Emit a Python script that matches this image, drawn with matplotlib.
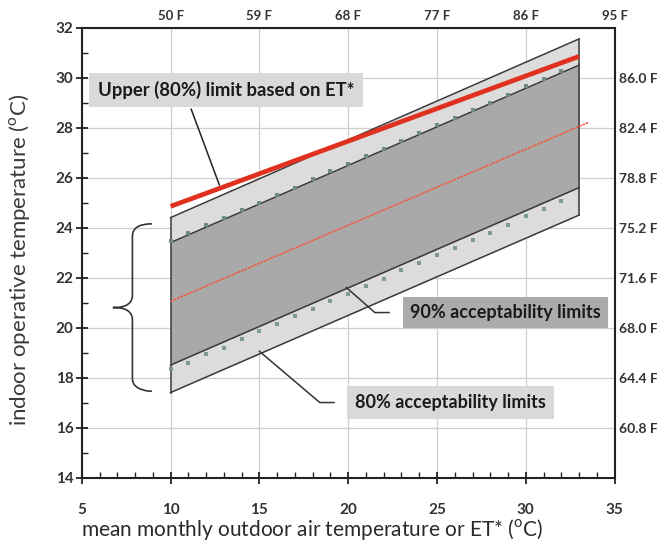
import matplotlib
matplotlib.use("Agg")
import matplotlib.pyplot as plt
from matplotlib.path import Path
from matplotlib.patches import PathPatch
import numpy as np

plt.rcParams['font.family'] = ['Lato', 'DejaVu Sans']

# ---- data ----
x_band = [10, 33]
upper80 = [24.4, 31.55]
upper90 = [23.4, 30.5]
lower90 = [18.5, 25.6]
lower80 = [17.4, 24.5]
x_center = [10, 33.5]
center = [21.05, 28.2]
x_et = [10, 33]
upper_et = [24.85, 30.85]

x_pts = [10, 11, 12, 13, 14, 15, 16, 17, 18, 19, 20, 21, 22, 23, 24, 25, 26, 27, 28, 29, 30, 31, 32]
upper_pts = [23.45, 23.8, 24.1, 24.4, 24.7, 25.0, 25.3, 25.6, 25.95, 26.25, 26.55, 26.85, 27.15, 27.45, 27.8, 28.1, 28.4, 28.7, 29.0, 29.3, 29.65, 29.95, 30.25]
lower_pts = [18.35, 18.6, 18.95, 19.2, 19.55, 19.85, 20.15, 20.45, 20.75, 21.05, 21.35, 21.65, 21.95, 22.3, 22.6, 22.9, 23.2, 23.5, 23.8, 24.1, 24.45, 24.75, 25.05]

y_ticks_c = [14, 16, 18, 20, 22, 24, 26, 28, 30, 32]
x_ticks_c = [5, 10, 15, 20, 25, 30, 35]
top_ticks = [10, 15, 20, 25, 30, 35]
top_labels = ['50 F', '59 F', '68 F', '77 F', '86 F', '95 F']
right_ticks = [16, 18, 20, 22, 24, 26, 28, 30]
right_labels = ['60.8 F', '64.4 F', '68.0 F', '71.6 F', '75.2 F', '78.8 F', '82.4 F', '86.0 F']

narrow = ['Liberation Sans Narrow', 'Lato', 'DejaVu Sans']

fig = plt.figure(figsize=(6.57, 5.42), dpi=100)
ax = fig.add_axes([0.1245, 0.119, 0.811, 0.830])
ax.set_xlim(5, 35)
ax.set_ylim(14, 32)

# grid
ax.set_xticks(x_ticks_c)
ax.set_yticks(y_ticks_c)
ax.grid(True, color='#cfcfcf', lw=0.9, zorder=0)
ax.set_axisbelow(True)

# bands
ax.fill_between(x_band, lower80, upper80, color='#dcdcdc', zorder=1, lw=0)
ax.fill_between(x_band, lower90, upper90, color='#a9a9a9', zorder=2, lw=0)
edge = '#3a3a3a'
for yy in (upper80, upper90, lower90, lower80):
    ax.plot(x_band, yy, color=edge, lw=1.1, zorder=3)
ax.plot([x_band[0], x_band[0]], [lower80[0], upper80[0]], color=edge, lw=1.1, zorder=3)
ax.plot([x_band[1], x_band[1]], [lower80[1], upper80[1]], color=edge, lw=1.1, zorder=3)

# points
ax.scatter(x_pts, upper_pts, marker='s', s=8, color='#6f8a80', zorder=4, lw=0)
ax.scatter(x_pts, lower_pts, marker='s', s=12, color='#7f9a90', zorder=4, lw=0)

# center and ET* lines
ax.plot(x_center, center, color='#f05a40', lw=1.2, ls=(0, (1.5, 0.6)), zorder=5)
ax.plot(x_et, upper_et, color='#e0301e', lw=3.4, zorder=5, solid_capstyle='butt')

# ticks
ax.set_xticks(np.arange(5, 36, 1), minor=True)
ax.set_yticks(np.arange(14, 33, 1), minor=True)
ax.tick_params(axis='both', which='major', direction='inout', length=8, width=1.3, color='#222222')
ax.tick_params(axis='both', which='minor', direction='in', length=4, width=1.0, color='#222222')
ax.tick_params(axis='x', which='major', pad=14)
ax.tick_params(axis='y', which='major', pad=2)
ax.set_xticklabels([str(v) for v in x_ticks_c], fontsize=11, fontweight='bold', color='#333333')
ax.set_yticklabels([str(v) for v in y_ticks_c], fontsize=11, fontweight='bold', color='#333333')
for s in ax.spines.values():
    s.set_linewidth(1.5)
    s.set_color('#222222')

ax.set_xlabel('mean monthly outdoor air temperature or ET* ($^{\\mathregular{o}}$C)', fontsize=15,
              color='#2a2a2a')
ax.xaxis.set_label_coords(0.432, -0.088)
ax.set_ylabel('indoor operative temperature ($^{\\mathregular{o}}$C)', fontsize=16, color='#3a3a3a')
ax.yaxis.set_label_coords(-0.094, 0.484)

# top axis
axt = ax.twiny()
axt.set_xlim(ax.get_xlim())
axt.set_xticks(top_ticks)
axt.set_xticklabels(top_labels, fontsize=9.5, fontweight='bold', color='#333333', family=narrow)
axt.tick_params(axis='x', length=0, pad=4)
# right axis
axr = ax.twinx()
axr.set_ylim(ax.get_ylim())
axr.set_yticks(right_ticks)
axr.set_yticklabels(right_labels, fontsize=10, fontweight='bold', color='#333333', family=narrow)
axr.tick_params(axis='y', length=0, pad=3)
for a in (axt, axr):
    for s in a.spines.values():
        s.set_visible(False)

# annotations
ax.annotate('', xy=(12.8, 25.6), xytext=(11.1, 28.85),
            arrowprops=dict(arrowstyle='-', color='#222222', lw=1.1), zorder=6)
ax.text(5.9, 29.5, 'Upper (80%) limit based on ET*', fontsize=13.3, fontweight='bold', color='#1a1a1a',
        va='center', ha='left', zorder=7,
        bbox=dict(boxstyle='square,pad=0.45', fc='#d9d9d9', ec='none'))

ax.plot([19.9, 21.5, 22.3], [21.6, 20.6, 20.6], color='#333333', lw=1.1, zorder=6)
ax.text(23.5, 20.6, '90% acceptability limits', fontsize=13, fontweight='bold', color='#1a1a1a',
        va='center', ha='left', zorder=7,
        bbox=dict(boxstyle='square,pad=0.4', fc='#ababab', ec='none'))

ax.plot([15.0, 18.4, 19.2], [19.05, 17.0, 17.0], color='#333333', lw=1.1, zorder=6)
ax.text(20.4, 17.0, '80% acceptability limits', fontsize=13, fontweight='bold', color='#1a1a1a',
        va='center', ha='left', zorder=7,
        bbox=dict(boxstyle='square,pad=0.45', fc='#d9d9d9', ec='none'))

# curly brace
bx_end, bx_mid, bx_tip = 8.95, 7.85, 6.75
yt, ym, yb = 24.15, 20.8, 17.45
verts = [
    (bx_end, yt), (bx_mid, yt), (bx_mid, yt - 0.5),
    (bx_mid, ym + 0.5),
    (bx_mid, ym), (bx_tip + 0.3, ym), (bx_tip, ym),
    (bx_tip + 0.3, ym), (bx_mid, ym), (bx_mid, ym - 0.5),
    (bx_mid, yb + 0.5),
    (bx_mid, yb), (bx_end, yb), (bx_end, yb),
]
codes = [Path.MOVETO, Path.CURVE3, Path.CURVE3,
         Path.LINETO,
         Path.CURVE4, Path.CURVE4, Path.CURVE4,
         Path.CURVE4, Path.CURVE4, Path.CURVE4,
         Path.LINETO,
         Path.CURVE4, Path.CURVE4, Path.CURVE4]
ax.add_patch(PathPatch(Path(verts, codes), fc='none', ec='#333333', lw=1.2, zorder=6, clip_on=False))

fig.savefig('out.png', dpi=100)
